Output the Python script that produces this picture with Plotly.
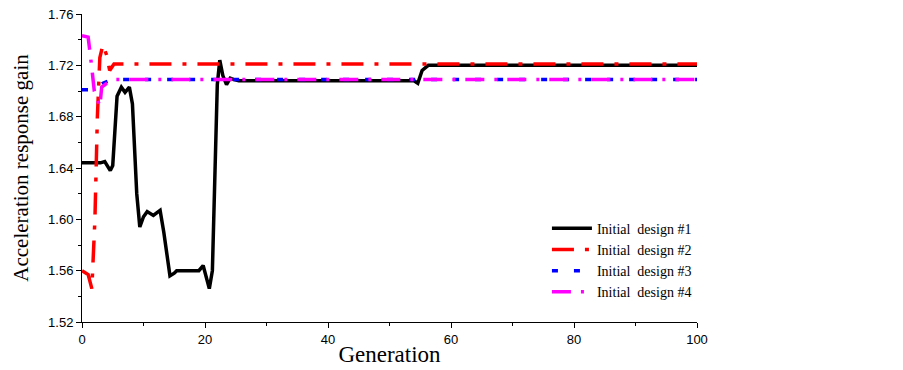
import plotly.graph_objects as go

# Series data (generation, acceleration response gain)
gen1 = [0, 3, 3.7, 4.6, 5.0, 5.7, 6.4, 7.0, 7.7, 8.2, 8.9, 9.4, 10.0, 10.6, 11.6, 12.7, 13.3, 14.3,
        15.0, 15.4, 16, 19.0, 19.7, 20.2, 20.7, 21.2, 21.6, 22.0, 22.4, 22.9, 23.5, 24.1, 24.6, 25.5,
        54.0, 54.6, 55.3, 56.3, 100]
gain1 = [1.644, 1.644, 1.645, 1.638, 1.642, 1.696, 1.703, 1.699, 1.703, 1.690, 1.620, 1.594, 1.602,
         1.606, 1.603, 1.607, 1.590, 1.556, 1.558, 1.560, 1.560, 1.560, 1.564, 1.555, 1.546, 1.560,
         1.640, 1.705, 1.724, 1.712, 1.705, 1.710, 1.709, 1.708, 1.708, 1.706, 1.716, 1.720, 1.720]

gen2 = [0, 1.0, 1.6, 2.1, 2.5, 2.9, 3.4, 4.0, 4.5, 5.2, 100]
gain2 = [1.560, 1.557, 1.546, 1.600, 1.680, 1.726, 1.736, 1.728, 1.716, 1.721, 1.721]

gen3 = [0, 2, 3.4, 5, 100]
gain3 = [1.701, 1.701, 1.706, 1.709, 1.709]

gen4 = [0, 1.0, 1.5, 2.0, 2.9, 3.2, 4.0, 5.5, 100]
gain4 = [1.743, 1.742, 1.722, 1.700, 1.688, 1.703, 1.706, 1.709, 1.709]

names = ["Initial  design #1", "Initial  design #2", "Initial  design #3", "Initial  design #4"]
x_ticks = [0, 20, 40, 60, 80, 100]
y_ticks = [1.52, 1.56, 1.60, 1.64, 1.68, 1.72, 1.76]

fig = go.Figure()
fig.add_trace(go.Scatter(x=gen1, y=gain1, mode="lines", name=names[0],
                         line=dict(color="black", width=3.5)))
fig.add_trace(go.Scatter(x=gen2, y=gain2, mode="lines", name=names[1],
                         line=dict(color="red", width=3.5, dash="22px,11px,4px,11px")))
fig.add_trace(go.Scatter(x=gen3, y=gain3, mode="lines", name=names[2],
                         line=dict(color="blue", width=3.5, dash="6px,16px")))
fig.add_trace(go.Scatter(x=gen4, y=gain4, mode="lines", name=names[3],
                         line=dict(color="magenta", width=3.5, dash="19px,10px,3px,10px")))

tick_font = dict(family="Liberation Sans, Arial", size=13, color="black")
ytitle_font = dict(family="Liberation Serif, Times New Roman", size=21, color="black")
xtitle_font = dict(family="Liberation Serif, Times New Roman", size=23, color="black")

# page body has an 8px margin, so the figure is sized/offset to land on the reference pixels
fig.update_layout(
    width=895, height=362,
    margin=dict(l=74, r=206, t=6, b=48, autoexpand=False),
    paper_bgcolor="white", plot_bgcolor="white",
    showlegend=True,
    legend=dict(x=0.756, y=0.355, xanchor="left", yanchor="top",
                font=dict(family="Liberation Serif, Times New Roman", size=14, color="black"),
                bgcolor="rgba(0,0,0,0)", itemwidth=40, tracegroupgap=0),
    xaxis=dict(range=[0, 100], tickvals=x_ticks, ticks="outside", ticklen=5, tickwidth=1,
               tickcolor="black", showline=True, linecolor="black", linewidth=1,
               showgrid=False, zeroline=False, tickfont=tick_font, automargin=False,
               ticklabeloverflow="allow",
               minor=dict(dtick=10, ticks="outside", ticklen=3, tickcolor="black", showgrid=False),
               title=dict(text="Generation", font=xtitle_font, standoff=0)),
    yaxis=dict(range=[1.52, 1.76], tickvals=y_ticks, tickformat=".2f", ticks="outside", ticklen=5,
               tickwidth=1, tickcolor="black", showline=True, linecolor="black", linewidth=1,
               showgrid=False, zeroline=False, tickfont=tick_font, automargin=False,
               ticklabeloverflow="allow",
               minor=dict(dtick=0.02, ticks="outside", ticklen=3, tickcolor="black", showgrid=False),
               title=dict(text="Acceleration response gain", font=ytitle_font, standoff=13)),
)

fig.write_html("out.html")
